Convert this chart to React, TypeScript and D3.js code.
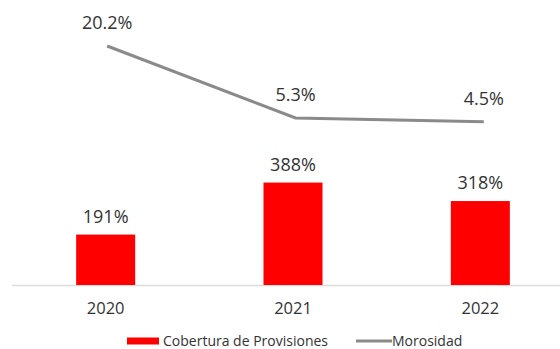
import React from "react";
import * as d3 from "d3";

const categories = ["2020", "2021", "2022"];
const cobertura = [191, 388, 318];
const morosidad = [20.2, 5.3, 4.5];
const coberturaLabels = ["191%", "388%", "318%"];
const morosidadLabels = ["20.2%", "5.3%", "4.5%"];
const legendNames = ["Cobertura de Provisiones", "Morosidad"];

const W = 560;
const H = 349;
const FONT = "'Open Sans', sans-serif";
const TEXT = "#333333";
const RED = "#ff0000";
const GRAY = "#8a8a8a";

export default function App() {
  const x = d3
    .scaleBand<string>()
    .domain(categories)
    .range([12, 574])
    .paddingInner(0.685)
    .paddingOuter(0.3425);
  const baseY = 285;
  const yBar = d3.scaleLinear().domain([0, 400]).range([baseY, baseY - 105.6]);
  const yLine = d3.scaleLinear().domain([0, 25]).range([143.6, 22.8]);
  const bw = x.bandwidth();
  const cx = (c: string) => (x(c) as number) + bw / 2;
  const lx = (c: string, i: number) => cx(c) + 1.5 + i * 1;

  const line = d3
    .line<number>()
    .x((_, i) => lx(categories[i], i))
    .y((d) => yLine(d));

  return (
    <svg
      width={W}
      height={H}
      style={{ position: "absolute", left: 0, top: 0, background: "#fff" }}
      fontFamily={FONT}
    >
      <line x1={12} x2={560} y1={baseY + 0.5} y2={baseY + 0.5} stroke="#dcdcdc" strokeWidth={1.5} />
      {categories.map((c, i) => (
        <g key={c}>
          <rect
            x={x(c)}
            y={yBar(cobertura[i])}
            width={bw}
            height={baseY - yBar(cobertura[i])}
            fill={RED}
          />
          <text
            x={cx(c)}
            y={yBar(cobertura[i]) - 12}
            textAnchor="middle"
            fontSize={18}
            fill={TEXT}
          >
            {coberturaLabels[i]}
          </text>
          <text x={cx(c)} y={314} textAnchor="middle" fontSize={16.5} fill={TEXT}>
            {c}
          </text>
        </g>
      ))}
      <path d={line(morosidad) || ""} fill="none" stroke={GRAY} strokeWidth={3} />
      {categories.map((c, i) => (
        <text
          key={"m" + c}
          x={lx(c, i)}
          y={yLine(morosidad[i]) - 17}
          textAnchor="middle"
          fontSize={18}
          fill={TEXT}
        >
          {morosidadLabels[i]}
        </text>
      ))}
      <g>
        <rect x={127} y={337.5} width={32} height={7} fill={RED} />
        <text x={163} y={346} fontSize={14} fill={TEXT}>
          {legendNames[0]}
        </text>
        <line x1={356} x2={392} y1={341} y2={341} stroke={GRAY} strokeWidth={3} />
        <text x={392} y={346} fontSize={14} fill={TEXT}>
          {legendNames[1]}
        </text>
      </g>
    </svg>
  );
}
